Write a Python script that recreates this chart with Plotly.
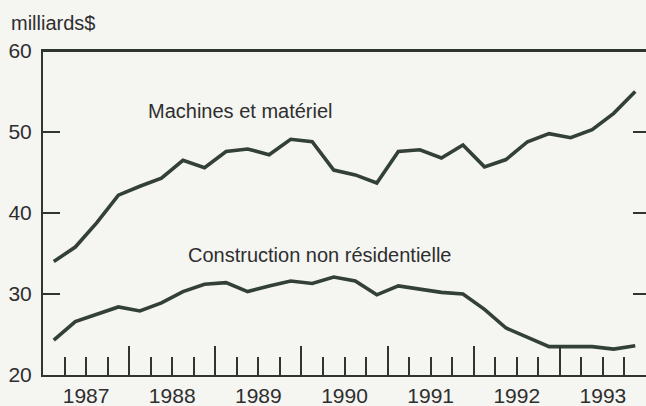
import plotly.graph_objects as go

# Data: quarterly, 1987Q1 .. 1993Q4 (milliards $)
years = [1987, 1988, 1989, 1990, 1991, 1992, 1993]
quarters = [f"{y}T{q}" for y in years for q in (1, 2, 3, 4)]
machines = [34.0, 35.8, 38.8, 42.2, 43.3, 44.3, 46.5, 45.6,
            47.6, 47.9, 47.2, 49.1, 48.8, 45.3, 44.7, 43.7,
            47.6, 47.8, 46.8, 48.4, 45.7, 46.6, 48.8, 49.8,
            49.3, 50.3, 52.3, 55.0]
construction = [24.3, 26.6, 27.5, 28.4, 27.9, 28.9, 30.3, 31.2,
                31.4, 30.3, 31.0, 31.6, 31.3, 32.1, 31.6, 29.9,
                31.0, 30.6, 30.2, 30.0, 28.1, 25.8, 24.6, 23.5,
                23.5, 23.5, 23.2, 23.6]
y_ticks = [20, 30, 40, 50, 60]
year_labels = [str(y) for y in years]


def qpos(label):
    y, q = label.split("T")
    return int(y) + (int(q) - 0.5) / 4


xq = [qpos(q) for q in quarters]

LINE = "#334036"
AXIS = "#2f352f"
TXT = "#2e2e2e"
BG = "#f5f5f2"
FONT = "Liberation Sans, Arial, Helvetica, sans-serif"
XR = [1987, 1994]
YR = [20, 60]

fig = go.Figure()
fig.add_trace(go.Scatter(x=xq, y=machines, mode="lines",
                         line=dict(color=LINE, width=3.6), hoverinfo="skip"))
fig.add_trace(go.Scatter(x=xq, y=construction, mode="lines",
                         line=dict(color=LINE, width=3.6), hoverinfo="skip"))
# helper invisible traces so overlay axes are drawn
fig.add_trace(go.Scatter(x=[XR[0]], y=[YR[0]], xaxis="x2", yaxis="y",
                         mode="markers", marker=dict(opacity=0), hoverinfo="skip"))
fig.add_trace(go.Scatter(x=[XR[0]], y=[YR[0]], xaxis="x", yaxis="y2",
                         mode="markers", marker=dict(opacity=0), hoverinfo="skip"))

year_bounds = [y for y in years[1:]]
quarter_bounds = [y + k / 4 for y in years for k in (1, 2, 3)]
year_mids = [y + 0.5 for y in years]

fig.update_layout(
    width=646, height=406,
    margin=dict(l=43, r=0, t=51, b=31, autoexpand=False),
    paper_bgcolor=BG, plot_bgcolor=BG,
    showlegend=False,
    font=dict(family=FONT, size=20, color=TXT),
    xaxis=dict(range=XR, showgrid=False, zeroline=False, automargin=False,
               showline=True, linecolor=AXIS, linewidth=2, mirror=True,
               tickmode="array", tickvals=year_bounds, showticklabels=False,
               ticks="inside", ticklen=29, tickwidth=2, tickcolor=AXIS,
               minor=dict(tickmode="array", tickvals=quarter_bounds,
                          ticks="inside", ticklen=18, tickwidth=2, tickcolor=AXIS)),
    xaxis2=dict(range=XR, overlaying="x", side="bottom", anchor="y", automargin=False,
                showgrid=False, zeroline=False, showline=False,
                tickmode="array", tickvals=year_mids, ticktext=year_labels,
                ticks="", ticklabelstandoff=6, tickfont=dict(size=21, color=TXT)),
    yaxis=dict(range=YR, showgrid=False, zeroline=False, automargin=False,
               showline=True, linecolor=AXIS, linewidth=2,
               tickmode="array", tickvals=y_ticks,
               ticks="inside", ticklen=17, tickwidth=2, tickcolor=AXIS,
               ticklabelstandoff=5, tickfont=dict(size=21, color=TXT)),
    yaxis2=dict(range=YR, overlaying="y", side="right", anchor="x", automargin=False,
                showgrid=False, zeroline=False, showline=False,
                tickmode="array", tickvals=[30, 40, 50],
                ticks="inside", ticklen=13, tickwidth=2, tickcolor=AXIS,
                showticklabels=False),
    shapes=[
        dict(type="line", xref="paper", yref="paper", x0=0, x1=1, y0=1, y1=1,
             line=dict(color=AXIS, width=2)),
    ],
    annotations=[
        dict(text="milliards$", xref="paper", yref="paper", x=-34/603, y=1 + 28/324,
             xanchor="left", yanchor="middle", showarrow=False,
             font=dict(size=20, color=TXT)),
        dict(text="Machines et matériel", xref="x", yref="y", x=1989.29, y=52.6,
             xanchor="center", yanchor="middle", showarrow=False,
             font=dict(size=20, color=TXT)),
        dict(text="Construction non résidentielle", xref="x", yref="y", x=1990.22, y=34.8,
             xanchor="center", yanchor="middle", showarrow=False,
             font=dict(size=20, color=TXT)),
    ],
)

fig.write_html("out.html", config={"displayModeBar": False},
               post_script="document.body.style.margin='0';document.body.style.background='#f5f5f2';")
